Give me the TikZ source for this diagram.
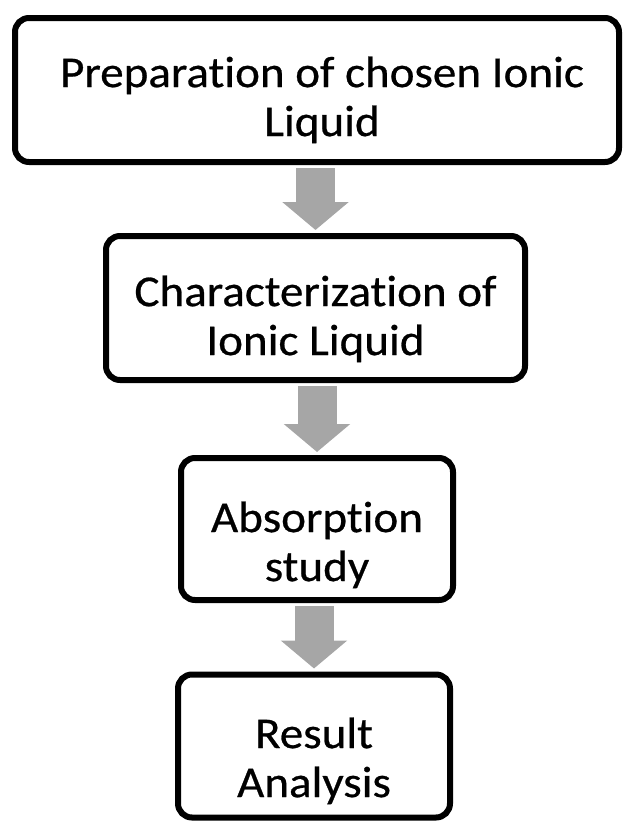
\documentclass[tikz,border=0pt]{standalone}
\usepackage{fontspec}
\setmainfont{Carlito}[Ligatures={NoCommon}, FakeStretch=1.07, FakeBold=0.6]
\usetikzlibrary{arrows.meta}
\newcommand{\twolines}[3]{\raisebox{-#1}[0pt][0pt]{\begin{tabular}{@{}c@{}}#2\\#3\end{tabular}}}
\begin{document}
\begin{tikzpicture}[x=1pt,y=-1pt,
  stepbox/.style={draw=black, line width=6pt, rounded corners=14pt, fill=white,
    inner sep=0pt, font=\fontsize{44}{49}\selectfont},
  flow/.style={draw=gray!70, line width=39pt, -{Triangle[width=65pt,length=28pt]},
    shorten <=3pt, shorten >=3pt}]
\useasboundingbox (0,0) rectangle (627,825);
\node[stepbox, minimum width=604pt, minimum height=144pt] (b1) at (317,90)
  {\hspace*{10pt}\twolines{18pt}{Preparation of chosen Ionic}{Liquid}};
\node[stepbox, minimum width=419pt, minimum height=144pt] (b2) at (315.5,308)
  {\twolines{19pt}{Characterization of}{Ionic Liquid}};
\node[stepbox, minimum width=272pt, minimum height=142pt] (b3) at (317,529)
  {\twolines{24pt}{Absorption}{study}};
\node[stepbox, minimum width=272pt, minimum height=143pt] (b4) at (314,746)
  {\twolines{23pt}{Result}{Analysis}};
\draw[flow] (b2.north |- b1.south) -- (b2.north);
\draw[flow] (b3.north |- b2.south) -- (b3.north);
\draw[flow] (b4.north |- b3.south) -- (b4.north);
\end{tikzpicture}
\end{document}
